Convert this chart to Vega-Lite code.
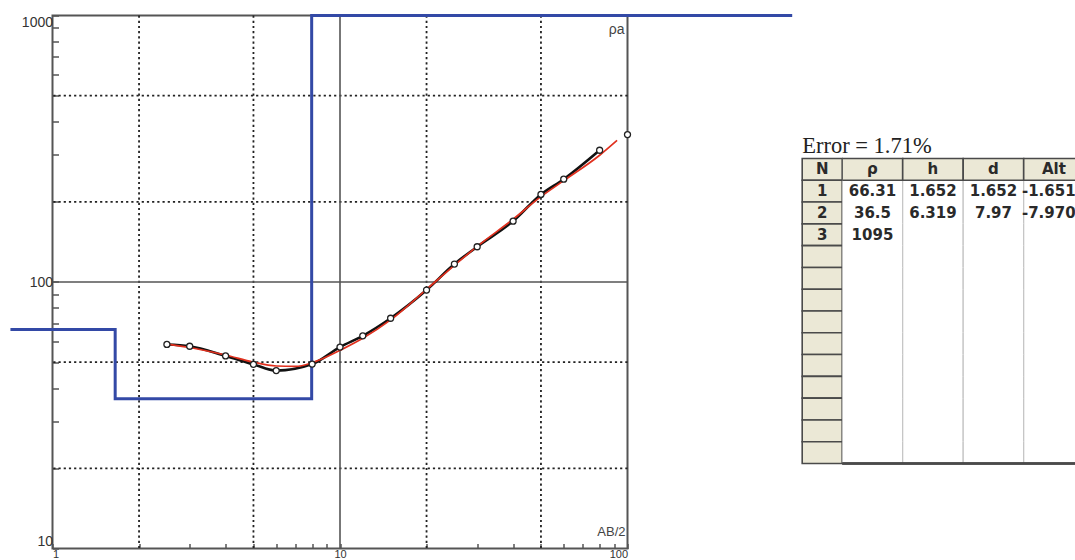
{
  "$schema": "https://vega.github.io/schema/vega-lite/v6.json",
  "background": "white",
  "padding": {"left": 2.5, "top": 8.5, "right": 0, "bottom": 0},
  "config": {"view": {"stroke": null}, "font": "Liberation Sans"},
  "datasets": {
    "vdash": [{"v": 2}, {"v": 5}, {"v": 20}, {"v": 50}],
    "hdash": [{"v": 20}, {"v": 50}, {"v": 200}, {"v": 500}],
    "vsolid": [{"v": 10}],
    "hsolid": [{"v": 100}],
    "model": [
      {"ab": 0.714, "rho": 66.31},
      {"ab": 1.652, "rho": 36.5},
      {"ab": 7.97, "rho": 1095},
      {"ab": 374, "rho": 1095}
    ],
    "obs": [
      {"ab": 2.5, "rho": 58.3}, {"ab": 3, "rho": 57.4}, {"ab": 4, "rho": 52.8},
      {"ab": 5, "rho": 49.1}, {"ab": 6, "rho": 46.5}, {"ab": 8, "rho": 49.2},
      {"ab": 10, "rho": 57.0}, {"ab": 12, "rho": 62.8}, {"ab": 15, "rho": 73.1},
      {"ab": 20, "rho": 93.3}, {"ab": 25, "rho": 116.8}, {"ab": 30, "rho": 135.6},
      {"ab": 40, "rho": 169.2}, {"ab": 50, "rho": 213.1}, {"ab": 60, "rho": 243.1},
      {"ab": 80, "rho": 312.2}, {"ab": 100, "rho": 357.5}
    ],
    "calc": [
      {"ab": 2.5, "rho": 58.5}, {"ab": 3, "rho": 56.8}, {"ab": 4, "rho": 53.2},
      {"ab": 5, "rho": 50.0}, {"ab": 6, "rho": 48.4}, {"ab": 7, "rho": 48.2},
      {"ab": 8, "rho": 49.8}, {"ab": 9, "rho": 52.4}, {"ab": 10, "rho": 55.4},
      {"ab": 12, "rho": 61.5}, {"ab": 15, "rho": 72.1}, {"ab": 20, "rho": 93.9},
      {"ab": 25, "rho": 115.5}, {"ab": 30, "rho": 136}, {"ab": 40, "rho": 172},
      {"ab": 50, "rho": 209}, {"ab": 60, "rho": 240}, {"ab": 80, "rho": 299},
      {"ab": 92, "rho": 340}
    ],
    "ncol": [
      {"row": "H", "col": "N", "label": "N", "title": "Error = 1.71%"},
      {"row": "1", "col": "N", "label": "1", "title": ""},
      {"row": "2", "col": "N", "label": "2", "title": ""},
      {"row": "3", "col": "N", "label": "3", "title": ""},
      {"row": "4", "col": "N", "label": "", "title": ""},
      {"row": "5", "col": "N", "label": "", "title": ""},
      {"row": "6", "col": "N", "label": "", "title": ""},
      {"row": "7", "col": "N", "label": "", "title": ""},
      {"row": "8", "col": "N", "label": "", "title": ""},
      {"row": "9", "col": "N", "label": "", "title": ""},
      {"row": "10", "col": "N", "label": "", "title": ""},
      {"row": "11", "col": "N", "label": "", "title": ""},
      {"row": "12", "col": "N", "label": "", "title": ""},
      {"row": "13", "col": "N", "label": "", "title": ""}
    ],
    "cells": [
      {"row": "H", "col": "ρ", "label": "ρ"},
      {"row": "H", "col": "h", "label": "h"},
      {"row": "H", "col": "d", "label": "d"},
      {"row": "H", "col": "Alt", "label": "Alt"},
      {"row": "1", "col": "ρ", "label": "66.31"},
      {"row": "1", "col": "h", "label": "1.652"},
      {"row": "1", "col": "d", "label": "1.652"},
      {"row": "1", "col": "Alt", "label": "-1.6516"},
      {"row": "2", "col": "ρ", "label": "36.5"},
      {"row": "2", "col": "h", "label": "6.319"},
      {"row": "2", "col": "d", "label": "7.97"},
      {"row": "2", "col": "Alt", "label": "-7.9703"},
      {"row": "3", "col": "ρ", "label": "1095"},
      {"row": "3", "col": "h", "label": ""},
      {"row": "3", "col": "d", "label": ""},
      {"row": "3", "col": "Alt", "label": ""},
      {"row": "4", "col": "ρ", "label": ""}, {"row": "4", "col": "h", "label": ""}, {"row": "4", "col": "d", "label": ""}, {"row": "4", "col": "Alt", "label": ""},
      {"row": "5", "col": "ρ", "label": ""}, {"row": "5", "col": "h", "label": ""}, {"row": "5", "col": "d", "label": ""}, {"row": "5", "col": "Alt", "label": ""},
      {"row": "6", "col": "ρ", "label": ""}, {"row": "6", "col": "h", "label": ""}, {"row": "6", "col": "d", "label": ""}, {"row": "6", "col": "Alt", "label": ""},
      {"row": "7", "col": "ρ", "label": ""}, {"row": "7", "col": "h", "label": ""}, {"row": "7", "col": "d", "label": ""}, {"row": "7", "col": "Alt", "label": ""},
      {"row": "8", "col": "ρ", "label": ""}, {"row": "8", "col": "h", "label": ""}, {"row": "8", "col": "d", "label": ""}, {"row": "8", "col": "Alt", "label": ""},
      {"row": "9", "col": "ρ", "label": ""}, {"row": "9", "col": "h", "label": ""}, {"row": "9", "col": "d", "label": ""}, {"row": "9", "col": "Alt", "label": ""},
      {"row": "10", "col": "ρ", "label": ""}, {"row": "10", "col": "h", "label": ""}, {"row": "10", "col": "d", "label": ""}, {"row": "10", "col": "Alt", "label": ""},
      {"row": "11", "col": "ρ", "label": ""}, {"row": "11", "col": "h", "label": ""}, {"row": "11", "col": "d", "label": ""}, {"row": "11", "col": "Alt", "label": ""},
      {"row": "12", "col": "ρ", "label": ""}, {"row": "12", "col": "h", "label": ""}, {"row": "12", "col": "d", "label": ""}, {"row": "12", "col": "Alt", "label": ""},
      {"row": "13", "col": "ρ", "label": ""}, {"row": "13", "col": "h", "label": ""}, {"row": "13", "col": "d", "label": ""}, {"row": "13", "col": "Alt", "label": ""}
    ]
  },
  "bounds": "flush",
  "spacing": 174.7,
  "hconcat": [
    {
      "width": 575,
      "height": 533,
      "view": {"stroke": "#555", "strokeWidth": 2},
      "layer": [
        {
          "data": {"name": "vdash"},
          "mark": {"type": "rule", "color": "#222", "strokeWidth": 1.8, "strokeDash": [2.2, 3]},
          "encoding": {"x": {"field": "v", "type": "quantitative", "title": null, "scale": {"type": "log", "domain": [1, 100], "nice": false}}}
        },
        {
          "data": {"name": "hdash"},
          "mark": {"type": "rule", "color": "#222", "strokeWidth": 1.8, "strokeDash": [2.2, 3]},
          "encoding": {"y": {"field": "v", "type": "quantitative", "title": null, "scale": {"type": "log", "domain": [10, 1000], "nice": false, "clamp": true}}}
        },
        {
          "data": {"name": "vsolid"},
          "mark": {"type": "rule", "color": "#555", "strokeWidth": 1.6},
          "encoding": {"x": {"field": "v", "type": "quantitative", "title": null}}
        },
        {
          "data": {"name": "hsolid"},
          "mark": {"type": "rule", "color": "#555", "strokeWidth": 1.6},
          "encoding": {"y": {"field": "v", "type": "quantitative", "title": null}}
        },
        {
          "data": {"name": "model"},
          "mark": {"type": "line", "color": "#3349a6", "strokeWidth": 3, "interpolate": "step-after"},
          "encoding": {
            "x": {"field": "ab", "type": "quantitative", "title": null},
            "y": {"field": "rho", "type": "quantitative", "title": null}
          }
        },
        {
          "data": {"name": "obs"},
          "transform": [{"filter": "datum.ab <= 80"}],
          "mark": {"type": "line", "color": "#111", "strokeWidth": 2.6, "interpolate": "monotone"},
          "encoding": {
            "x": {"field": "ab", "type": "quantitative", "title": null},
            "y": {"field": "rho", "type": "quantitative", "title": null}
          }
        },
        {
          "data": {"name": "calc"},
          "mark": {"type": "line", "color": "#e0301e", "strokeWidth": 1.7, "interpolate": "monotone"},
          "encoding": {
            "x": {"field": "ab", "type": "quantitative", "title": null},
            "y": {"field": "rho", "type": "quantitative", "title": null}
          }
        },
        {
          "data": {"name": "obs"},
          "mark": {"type": "point", "shape": "circle", "fill": "white", "fillOpacity": 1, "stroke": "#222", "strokeWidth": 1.3, "size": 36, "opacity": 1},
          "encoding": {
            "x": {
              "field": "ab", "type": "quantitative", "title": null,
              "axis": {
                "values": [1, 2, 3, 4, 5, 6, 7, 8, 9, 10, 20, 30, 40, 50, 60, 70, 80, 90, 100],
                "labelExpr": "datum.value == 1 || datum.value == 10 || datum.value == 100 ? datum.label : ''",
                "format": "d",
                "domain": false, "grid": false,
                "tickSize": -5, "tickColor": "#555", "tickWidth": 1.5,
                "labelPadding": 5, "labelFontSize": 11, "labelColor": "#333",
                "labelFont": "Liberation Sans", "labelBaseline": "top",
                "labelFlush": true, "labelOverlap": false
              }
            },
            "y": {
              "field": "rho", "type": "quantitative", "title": null,
              "axis": {
                "values": [10, 20, 30, 40, 50, 60, 70, 80, 90, 100, 200, 300, 400, 500, 600, 700, 800, 900, 1000],
                "labelExpr": "datum.value == 10 || datum.value == 100 || datum.value == 1000 ? datum.label : ''",
                "format": "d",
                "domain": false, "grid": false,
                "tickSize": -6, "tickColor": "#555", "tickWidth": 1.5,
                "labelPadding": 6, "labelFontSize": 14, "labelColor": "#333",
                "labelFont": "Liberation Sans",
                "labelFlush": true, "labelOverlap": false
              }
            }
          }
        },
        {
          "data": {"values": [{"t": "ρa", "ab": 100, "rho": 1000}]},
          "mark": {"type": "text", "align": "right", "baseline": "top", "dx": -3, "dy": 7, "fontSize": 14, "color": "#444", "font": "Liberation Sans"},
          "encoding": {
            "x": {"field": "ab", "type": "quantitative", "title": null},
            "y": {"field": "rho", "type": "quantitative", "title": null},
            "text": {"field": "t"}
          }
        },
        {
          "data": {"values": [{"t": "AB/2", "ab": 100, "rho": 10}]},
          "mark": {"type": "text", "align": "right", "baseline": "bottom", "dx": -2, "dy": -10, "fontSize": 13, "color": "#444", "font": "Liberation Sans"},
          "encoding": {
            "x": {"field": "ab", "type": "quantitative", "title": null},
            "y": {"field": "rho", "type": "quantitative", "title": null},
            "text": {"field": "t"}
          }
        }
      ]
    },
    {
      "bounds": "flush",
      "spacing": 0,
      "hconcat": [
        {
          "width": 40,
          "height": 533,
          "data": {"name": "ncol"},
          "encoding": {
            "x": {"field": "col", "type": "nominal", "axis": null, "scale": {"domain": ["N"], "paddingInner": 0, "paddingOuter": 0}},
            "y": {"field": "row", "type": "nominal", "axis": null, "scale": {"domain": ["H", "1", "2", "3", "4", "5", "6", "7", "8", "9", "10", "11", "12", "13"], "range": [143, 448], "paddingInner": 0, "paddingOuter": 0}}
          },
          "layer": [
            {
              "mark": {"type": "rect", "fill": "#ebe8d6", "stroke": "#4a4a4a", "strokeWidth": 1.6}
            },
            {
              "mark": {"type": "text", "fontWeight": "bold", "fontSize": 15, "font": "DejaVu Sans", "color": "#2a2a2a", "baseline": "middle"},
              "encoding": {"text": {"field": "label"}}
            },
            {
              "mark": {"type": "text", "align": "left", "baseline": "alphabetic", "dx": -20, "dy": -16, "fontSize": 22.5, "font": "Liberation Serif", "color": "#222"},
              "encoding": {"text": {"field": "title"}}
            }
          ]
        },
        {
          "width": 233.3,
          "height": 533,
          "data": {"name": "cells"},
          "encoding": {
            "x": {"field": "col", "type": "nominal", "axis": null, "scale": {"domain": ["ρ", "h", "d", "Alt"], "range": [0, 242], "paddingInner": 0, "paddingOuter": 0}},
            "y": {"field": "row", "type": "nominal", "axis": null, "scale": {"domain": ["H", "1", "2", "3", "4", "5", "6", "7", "8", "9", "10", "11", "12", "13"], "range": [143, 448], "paddingInner": 0, "paddingOuter": 0}}
          },
          "layer": [
            {
              "transform": [{"filter": "datum.row != 'H'"}],
              "mark": {"type": "rect", "fill": "white", "stroke": "#c4c4c4", "strokeWidth": 1.2, "strokeDash": [0, 60.5, 21.786, 60.5, 21.786, 0], "clip": true}
            },
            {
              "transform": [{"filter": "datum.row == '13'"}],
              "mark": {"type": "rule", "color": "#4a4a4a", "strokeWidth": 2, "clip": true},
              "encoding": {"x": null, "y": {"field": "row", "type": "nominal", "bandPosition": 1}}
            },
            {
              "transform": [{"filter": "datum.row == 'H'"}],
              "mark": {"type": "rect", "fill": "#ebe8d6", "stroke": "#4a4a4a", "strokeWidth": 1.6, "clip": true}
            },
            {
              "mark": {"type": "text", "fontWeight": "bold", "fontSize": 15, "font": "DejaVu Sans", "color": "#2a2a2a", "baseline": "middle", "clip": true},
              "encoding": {"text": {"field": "label"}}
            }
          ]
        }
      ]
    }
  ]
}
